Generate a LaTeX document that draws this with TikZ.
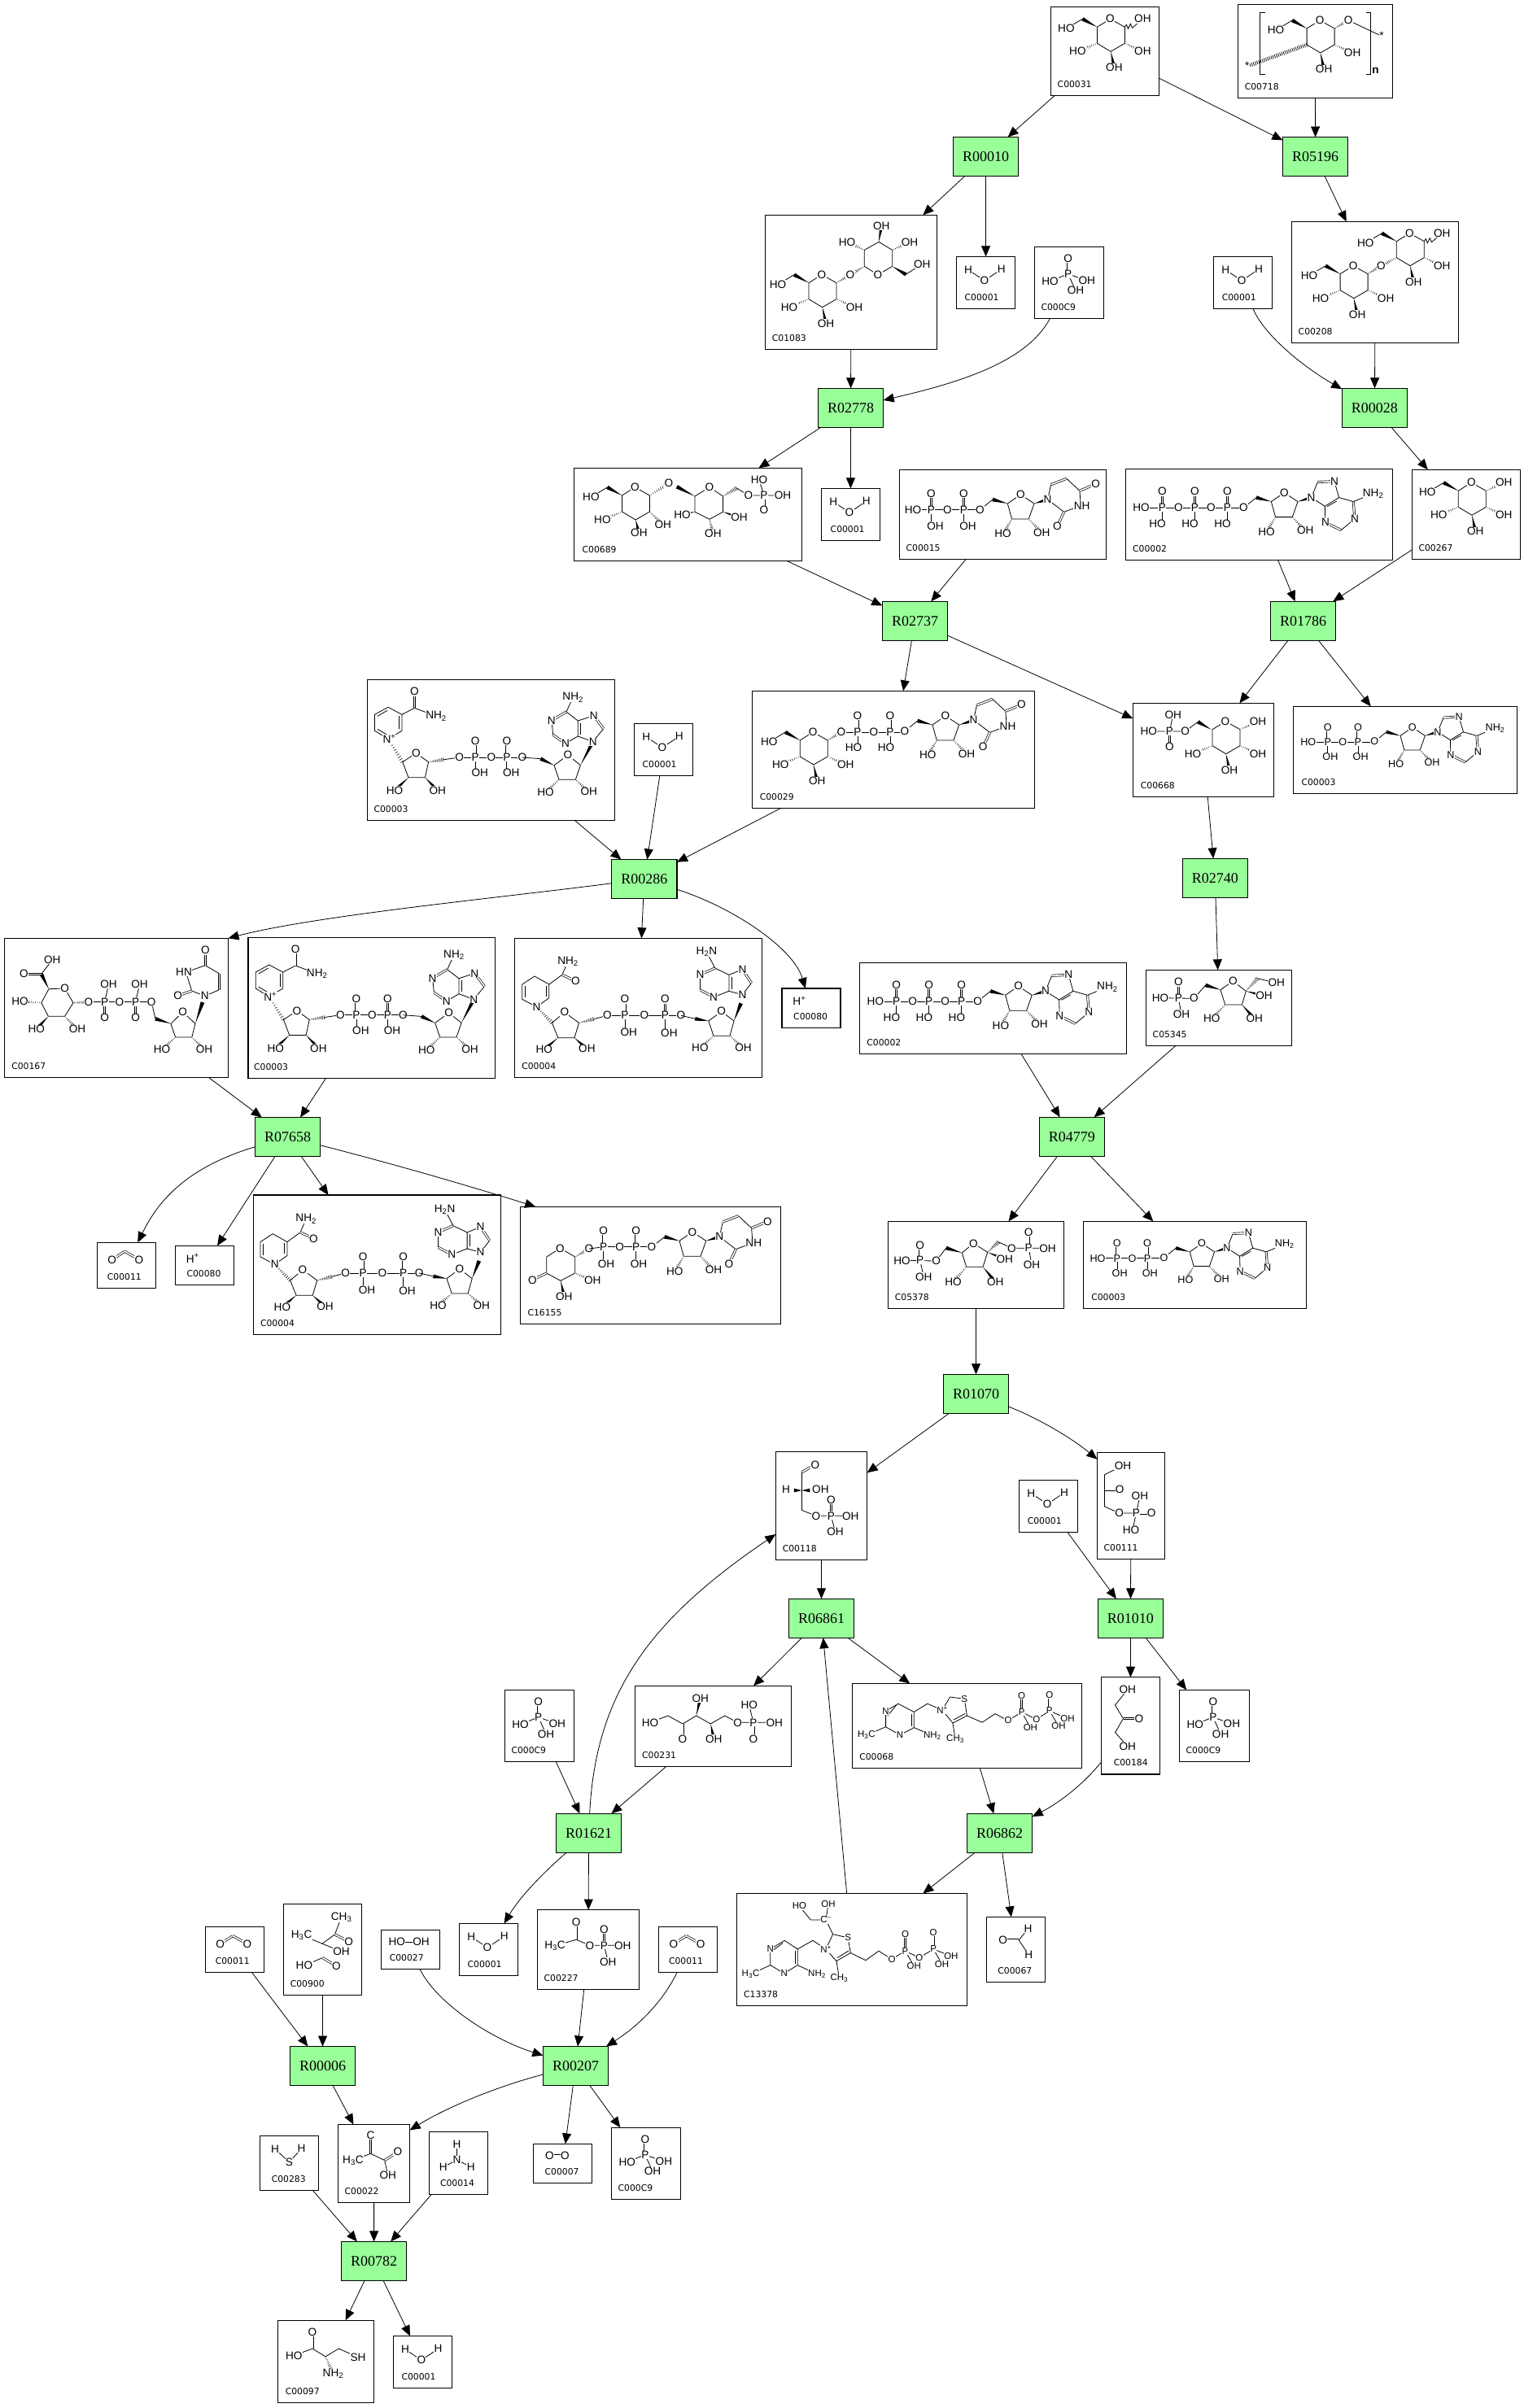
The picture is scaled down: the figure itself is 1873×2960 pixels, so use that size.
\documentclass[tikz,border=0pt]{standalone}
\usepackage{fontspec}
\setmainfont{Liberation Sans}
\newfontfamily\rfont{Liberation Serif}
\newfontfamily\lfont{DejaVu Sans}
\usetikzlibrary{arrows.meta,calc}
\definecolor{rgreen}{RGB}{153,255,153}
\newcommand\atomfont{\fontsize{13.6}{14}\selectfont}
\tikzset{
 cbox/.style={draw=black,line width=1.1pt,inner sep=0pt,outer sep=0pt,rectangle},
 rbox/.style={cbox,fill=rgreen,font=\rfont\fontsize{18}{20}\selectfont,minimum width=80.4pt,minimum height=48pt},
 clabel/.style={font=\lfont\fontsize{10.8}{12}\selectfont,inner sep=0pt,anchor=west},
 atom/.style={font=\atomfont,inner sep=.4pt,fill=white,transform shape},
 bond/.style={line width=.8pt},
 dbond/.style={line width=.7pt,double,double distance=1.6pt},
 hashb/.style={line width=4.6pt,dash pattern=on .7pt off 1.6pt},
 arr/.style={-{Triangle[length=13pt,width=11pt]},line width=.8pt}
}
\newcount\atomno
\newcommand\atm[2]{\global\advance\atomno 1 \node[atom] (atom\the\atomno) at (#1) {#2};}
\newcommand\bd[1]{\draw[bond] #1;}
\newcommand\dbd[1]{\draw[dbond] #1;}
\newcommand\hs[2]{\foreach \hst in {.08,.18,.28,.38,.48,.58,.68,.78,.88,.98}{\pgfmathsetmacro\hw{.3+2.3*\hst}\draw[line width=.55pt] ($(#1)!\hst!(#2)!\hw pt!90:(#2)$) -- ($(#1)!\hst!(#2)!\hw pt!-90:(#2)$);}}
\newcommand\wdg[2]{\fill ($(#2)!2.4pt!90:(#1)$) -- (#1) -- ($(#2)!2.4pt!-90:(#1)$) -- cycle;}
\newcommand\cb[7]{\node[cbox,minimum width={(#4-#2)*1pt},minimum height={(#5-#3)*1pt}] (#1) at ({(#2+#4)/2},{(#3+#5)/2}) {}; \node[clabel] (#1-l) at ({#2+#7},{#5-14}) {#6};}
\newcommand\rn[4]{\node[rbox] (#1) at (#3,#4) {#2};}
% glucose pieces, origin at ring O
\newcommand\glcbonds{\bd{(0,0)--(18,10)--(18,30)--(.7,40)--(-16,30)--(-16,10)--cycle}\hs{18,30}{40,40}\wdg{.7,40}{5,60}}
\newcommand\glcatoms{\atm{0,0}{O}\atm{40,40}{OH}\atm{5,60}{OH}}
\newcommand\glcfour{\hs{-16,30}{-40,40}\atm{-40,40}{HO}}
\newcommand\glcch{\wdg{-16,10}{-34,0}\bd{(-34,0)--(-54,12)}\atm{-54,12}{HO}}
\newcommand\glcwavy{\bd{(18,10)--(20,7)--(22,12)--(25,6)--(27,11)--(40,0)}\atm{40,0}{OH}}
% ribose, origin at ring O
\newcommand\ribo{\bd{(0,0)--(16.7,11)--(10,30)--(-10.7,30)--(-16,11)--cycle}\wdg{-16,11}{-34.3,6}\bd{(-34.3,6)--(-50,18.7)}\hs{-10.7,30}{-21.7,48.3}\hs{10,30}{26,46.7}\wdg{16.7,11}{33.3,6}\atm{0,0}{O}\atm{-21.7,48.3}{HO}\atm{26,46.7}{OH}\atm{-50,18.7}{O}}
% adenine, origin at N9
\newcommand\adenA{\bd{(0,0)--(7.7,-19)}\dbd{(7.7,-19)--(28.3,-20)}\bd{(28.3,-20)--(34,0)--(16.7,10.7)--(0,0)}\bd{(34,0)--(51.7,5)}\bd{(16.7,10.7)--(17.3,30.7)}\dbd{(17.3,30.7)--(36.7,40)}\bd{(36.7,40)--(53.3,26)}\dbd{(53.3,26)--(51.7,5)}\bd{(51.7,5)--(76,-5)}\bd{(31,4.5)--(19.5,11)}\atm{0,0}{N}\atm{28.3,-20}{N}\atm{17.3,30.7}{N}\atm{53.3,26}{N}\atm{76,-5}{NH\textsubscript{2}}}
% uracil, origin at N1
\newcommand\ura{\bd{(0,0)--(4,-18.3)}\dbd{(4,-18.3)--(23.3,-25.7)}\bd{(23.3,-25.7)--(39.3,-10.7)--(40.7,7.7)--(20,15.3)--(0,0)}\dbd{(39.3,-10.7)--(59,-19)}\dbd{(20,15.3)--(11.7,33.3)}\atm{0,0}{N}\atm{42,7.7}{NH}\atm{59,-19}{O}\atm{11.7,33.3}{O}}
% phosphate centre
\newcommand\Pg[5]{\begin{scope}[shift={(#1,#2)}]\dbd{(0,0)--(0,-20)}\bd{(0,0)--(0,18)}\atm{0,-20}{O}\atm{#4,#5}{#3}\atm{0,0}{P}\end{scope}}
% diphosphate from P1 at origin to the last O
\newcommand\PP[3]{\bd{(0,0)--(60,0)}\atm{20,0}{O}\Pg{0}{0}{#1}{#2}{#3}\Pg{40}{0}{#1}{#2}{#3}}
\newcommand\ATP{\bd{(-25.7,0)--(100,0)}\atm{-25.7,0}{HO}\atm{20,0}{O}\atm{60,0}{O}\Pg{0}{0}{HO}{-5.7}{19.7}\Pg{40}{0}{HO}{-5.7}{19.7}\Pg{80}{0}{HO}{-5.7}{19.7}\begin{scope}[shift={(150,-18.7)}]\ribo\begin{scope}[shift={(33.3,6)}]\adenA\end{scope}\end{scope}}
\newcommand\ADP{\bd{(-25.7,0)--(0,0)}\atm{-25.7,0}{HO}\PP{OH}{3.5}{19.7}\begin{scope}[shift={(112,-19.5)}]\ribo\begin{scope}[shift={(33.3,6)}]\adenA\end{scope}\end{scope}}
\newcommand\water[2]{\begin{scope}[shift={(#1,#2)}]\bd{(14.7,16.4)--(34.5,29.7)--(55.3,15.7)}\atm{14.7,16.4}{H}\atm{34.5,29.7}{O}\atm{55.3,15.7}{H}\end{scope}}
\newcommand\cotwo[2]{\begin{scope}[shift={(#1,#2)}]\dbd{(18.4,21)--(34,11)}\dbd{(34,11)--(51.7,21)}\atm{18.4,21}{O}\atm{51.7,21}{O}\end{scope}}
\newcommand\phos[2]{\begin{scope}[shift={(#1,#2)}]\dbd{(41.4,33.5)--(41.4,14.4)}\bd{(19.3,42.4)--(41.4,33.5)--(64.5,41.7)}\bd{(41.4,33.5)--(50.7,54)}\atm{41.4,14.4}{O}\atm{19.3,42.4}{HO}\atm{64.5,41.7}{OH}\atm{50.7,54}{OH}\atm{41.4,33.5}{P}\end{scope}}
\newcommand\NADp{%
 \bd{(0,0)--(17,-10)--(17,-30)--(0,-39)--(-16.5,-30)--(-16.5,-10)--cycle}
 \bd{(13.5,-12)--(13.5,-28)}\bd{(-1,-35)--(-13,-28)}\bd{(-13,-12)--(-2,-5.5)}
 \bd{(17,-30)--(32.5,-38)--(59,-28)}\dbd{(32.5,-38)--(32.5,-58)}
 \atm{32.5,-58}{O}\atm{59,-28}{NH\textsubscript{2}}
 \hs{0,0}{17.8,28.4}\atm{1.5,0}{N\textsuperscript{+}}
 \bd{(34.3,17.4)--(49.6,28.4)--(45.4,47.4)--(25,47.4)--(17.8,28.4)--cycle}
 \wdg{25,47.4}{8,63.4}\wdg{45.4,47.4}{60.7,63.4}\atm{34.3,17.4}{O}\atm{8,63.4}{HO}\atm{60.7,63.4}{OH}
 \hs{49.6,28.4}{68,25.5}\bd{(68,25.5)--(87.6,22.7)}
 \begin{scope}[shift={(107.2,22.7)}]\bd{(-19.6,0)--(57.6,0)}\atm{-19.6,0}{O}\atm{19.6,0}{O}\atm{57.6,0}{O}\Pg{0}{0}{OH}{5.5}{19}\Pg{38.6}{0}{OH}{5.5}{19}\end{scope}
 \bd{(164.8,22.7)--(187.4,24.4)}\wdg{204,32.4}{187.4,24.4}
 \bd{(221,20)--(236.4,32.4)--(230.3,50)--(210,50)--(204,32.4)--cycle}
 \hs{210,50}{193.5,65.7}\hs{230.3,50}{246.8,65}\wdg{236.4,32.4}{251.7,3.4}
 \atm{221,20}{O}\atm{193.5,65.7}{HO}\atm{246.8,65}{OH}
 \begin{scope}[shift={(251.7,3.4)}]
 \bd{(0,0)--(13,-16)}\dbd{(13,-16)--(1,-32)}\bd{(1,-32)--(-18.4,-25.7)--(-18.4,-6.7)--(0,0)}\bd{(-18.4,-25.7)--(-32.7,-36.7)}\dbd{(-32.7,-36.7)--(-50.8,-26)}\bd{(-50.8,-26)--(-49,-8.4)}\dbd{(-49,-8.4)--(-33.7,2.3)}\bd{(-33.7,2.3)--(-18.4,-6.7)}\bd{(-32.7,-36.7)--(-24.5,-54.4)}\bd{(-15,-23)--(-15,-9)}
 \atm{0,0}{N}\atm{1,-32}{N}\atm{-50.8,-26}{N}\atm{-33.7,2.3}{N}\atm{-24.5,-54.4}{NH\textsubscript{2}}
 \end{scope}}
\newcommand\NADH{%
 \bd{(0,0)--(15.3,-11)--(15.3,-27.7)--(-2.5,-37.7)--(-17.7,-27.7)--(-17.7,-9.4)--cycle}
 \bd{(12,-13)--(12,-26)}\bd{(-14.5,-25.5)--(-14.5,-11.5)}
 \bd{(15.3,-27.7)--(31.3,-39.4)--(38.5,-56)}\dbd{(31.3,-39.4)--(47.8,-32)}
 \atm{38.5,-56}{NH\textsubscript{2}}\atm{47.8,-32}{O}
 \hs{0,0}{19,19.6}\atm{0,0}{N}
 \bd{(34.3,6.6)--(52.1,19.6)--(46.5,38)--(26.3,38)--(19,19.6)--cycle}
 \wdg{26.3,38}{9.2,52.3}\wdg{46.5,38}{61.9,51.6}\atm{34.3,6.6}{O}\atm{9.2,52.3}{HO}\atm{61.9,51.6}{OH}
 \hs{52.1,19.6}{70,15}\bd{(70,15)--(87,10.6)}
 \begin{scope}[shift={(108.5,10.6)}]\bd{(-21.5,0)--(69,0)}\atm{-21.5,0}{O}\atm{23.8,0}{O}\atm{69,0}{O}\Pg{0}{0}{OH}{4.8}{20.7}\Pg{49.5}{0}{OH}{4.9}{21.7}\end{scope}
 \bd{(177.5,10.6)--(194.8,14.6)}\wdg{211.3,17.3}{194.8,14.6}
 \bd{(227.2,5.6)--(242.5,17.3)--(237.5,35.6)--(217.5,35.6)--(211.3,17.3)--cycle}
 \hs{217.5,35.6}{200.9,50.6}\hs{237.5,35.6}{254.1,50.6}\wdg{242.5,17.3}{251.1,-4.4}
 \atm{227.2,5.6}{O}\atm{200.9,50.6}{HO}\atm{254.1,50.6}{OH}
 \begin{scope}[shift={(252.9,-15)}]
 \bd{(0,0)--(11.1,-14.4)}\dbd{(11.1,-14.4)--(0,-31)}\bd{(0,-31)--(-16.5,-24.4)--(-16.5,-4.4)--(0,0)}\bd{(-16.5,-24.4)--(-33.7,-32.7)}\dbd{(-33.7,-32.7)--(-52,-24.4)}\bd{(-52,-24.4)--(-52,-6)}\dbd{(-52,-6)--(-35.4,3)}\bd{(-35.4,3)--(-16.5,-4.4)}\bd{(-33.7,-32.7)--(-44,-52.7)}\bd{(-13.5,-22)--(-13.5,-7)}
 \atm{0,0}{N}\atm{0,-31}{N}\atm{-52,-24.4}{N}\atm{-35.4,3}{N}\atm{-44,-52.7}{H\textsubscript{2}N}
 \end{scope}}
\begin{document}
\begin{tikzpicture}[x=1pt,y=-1pt]
\useasboundingbox (0,0) rectangle (1873,2960);
% ---------- reaction nodes
\rn{r00010}{R00010}{1211.5}{192.5}
\rn{r05196}{R05196}{1616.6}{192.5}
\rn{r02778}{R02778}{1045.5}{501.3}
\rn{r00028}{R00028}{1689.4}{501.3}
\rn{r02737}{R02737}{1124.5}{763.3}
\rn{r01786}{R01786}{1601.5}{763.3}
\rn{r00286}{R00286}{791.8}{1080.5}
\rn{r02740}{R02740}{1493.3}{1079.3}
\rn{r07658}{R07658}{353.5}{1397.5}
\rn{r04779}{R04779}{1317.4}{1397.3}
\rn{r01070}{R01070}{1199.5}{1713.3}
\rn{r06861}{R06861}{1009.5}{1989.3}
\rn{r01010}{R01010}{1389.4}{1989.3}
\rn{r01621}{R01621}{723.5}{2253.3}
\rn{r06862}{R06862}{1228.5}{2253.3}
\rn{r00006}{R00006}{396.5}{2539.5}
\rn{r00207}{R00207}{707.5}{2539.5}
\rn{r00782}{R00782}{459.6}{2779.4}
% ---------- compound boxes
\cb{c00031}{1291.5}{8.3}{1424.3}{117.3}{C00031}{8}
\cb{c00718}{1521.6}{5.3}{1711.5}{120.3}{C00718}{8}
\cb{c01083}{940.3}{264.3}{1151.7}{429.3}{C01083}{8.4}
\cb{wa}{1175.4}{315.3}{1247.7}{379.3}{C00001}{10}
\cb{pa}{1271.3}{303.3}{1356.5}{391.3}{C000C9}{8}
\cb{wb}{1491.6}{315.3}{1563.6}{379.3}{C00001}{10}
\cb{c00208}{1587.5}{272.3}{1792.7}{421.3}{C00208}{8}
\cb{c00689}{705.4}{575.3}{985.4}{689.3}{C00689}{10}
\cb{wc}{1009.5}{600.3}{1081.3}{664.3}{C00001}{11}
\cb{c00015}{1105.4}{577.3}{1359.5}{687.3}{C00015}{8}
\cb{atpa}{1383.3}{576.7}{1711.7}{688.3}{C00002}{8.6}
\cb{c00267}{1735.3}{577.3}{1868.7}{687.3}{C00267}{8}
\cb{c00668}{1392.3}{864.3}{1565.7}{979.3}{C00668}{9.4}
\cb{adpa}{1589.3}{868.3}{1864.7}{975.3}{C00003}{10}
\cb{c00029}{924.6}{849.3}{1271.5}{993.3}{C00029}{9}
\cb{nada}{451.9}{835.3}{755.7}{1008.3}{C00003}{7.4}
\cb{wd}{779.5}{889.3}{851.8}{953.3}{C00001}{10}
\cb{c00167}{5.5}{1153.3}{280.5}{1324.3}{C00167}{8.6}
\cb{nadb}{305}{1152.3}{608.7}{1325.3}{C00003}{7}
\cb{nadha}{632.6}{1153.3}{936.3}{1324.3}{C00004}{8.5}
\cb{ha}{961}{1215}{1033}{1263.3}{C00080}{14}
\cb{atpb}{1056.4}{1183.3}{1384.8}{1295.3}{C00002}{8.8}
\cb{c05345}{1408.5}{1192.3}{1587.6}{1285.3}{C05345}{8}
\cb{cdioa}{119.3}{1527.3}{191.7}{1583.3}{C00011}{12.4}
\cb{hb}{215.3}{1531.3}{287.7}{1579.3}{C00080}{14}
\cb{nadhb}{311.3}{1469}{615.7}{1640.3}{C00004}{8.5}
\cb{c16155}{639.3}{1483.3}{959.7}{1627.3}{C16155}{9}
\cb{c05378}{1091.2}{1501.3}{1307.8}{1608.3}{C05378}{8.5}
\cb{adpb}{1331.6}{1501.3}{1605.6}{1608.3}{C00003}{9.5}
\cb{c00118}{953.3}{1784.3}{1065.7}{1917.5}{C00118}{8.3}
\cb{c00111}{1348.4}{1785.3}{1431.6}{1916.6}{C00111}{8}
\cb{we}{1252.6}{1819.2}{1324.5}{1883.5}{C00001}{10}
\cb{pb}{620.3}{2077.3}{705.7}{2165.3}{C000C9}{8}
\cb{c00231}{780.3}{2072.3}{972.7}{2171.3}{C00231}{8.7}
\cb{c00068}{1047.4}{2069.5}{1329.7}{2173.2}{C00068}{8.7}
\cb{c00184}{1353.6}{2061.7}{1425.6}{2181}{C00184}{15}
\cb{pc}{1449.4}{2077.3}{1535.7}{2165.4}{C000C9}{8}
\cb{c13378}{905.6}{2327.5}{1188.4}{2465.2}{C13378}{8.3}
\cb{c00067}{1212.2}{2356.4}{1284.6}{2436.3}{C00067}{14}
\cb{cdiob}{252.2}{2368.6}{324.5}{2424.6}{C00011}{12.4}
\cb{c00900}{348.6}{2340.4}{444.5}{2452.4}{C00900}{8}
\cb{c00027}{468.6}{2372.4}{540.4}{2420.4}{C00027}{10}
\cb{wf}{564.5}{2364.4}{636.7}{2428.4}{C00001}{10}
\cb{c00227}{660.4}{2347.6}{785.7}{2445.2}{C00227}{8}
\cb{cdioc}{809.4}{2368.6}{881.6}{2424.6}{C00011}{12.4}
\cb{c00022}{415.5}{2611.5}{503.7}{2707.4}{C00022}{8}
\cb{c00283}{319.6}{2625.3}{391.4}{2692.7}{C00283}{14}
\cb{c00014}{527.3}{2620.3}{599.6}{2697.3}{C00014}{13.5}
\cb{c00007}{655.5}{2635.4}{727.8}{2683.4}{C00007}{14}
\cb{pd}{751.4}{2615.2}{836.7}{2703.2}{C000C9}{8}
\cb{c00097}{341.2}{2852.2}{459.6}{2953.2}{C00097}{9.4}
\cb{wg}{483.3}{2871.5}{555.5}{2935.5}{C00001}{10}
% ---------- structures
% C00031
\begin{scope}[shift={(1364.4,23.3)}]\glcbonds\glcfour\glcch\glcwavy\glcatoms\end{scope}
% C00718
\begin{scope}[shift={(1622.1,25)}]\glcbonds\glcch\draw[hashb] (-16,30) -- (-88,56);\hs{18,10}{35,0}\bd{(35,0)--(75,19)}\atm{35,0}{O}\atm{76,19}{*}\atm{-89.4,55.7}{*}\glcatoms
\bd{(-67.3,-10)--(-73.3,-10)--(-73.3,66.7)--(-67.3,66.7)}\bd{(56.7,-10)--(62.7,-10)--(62.7,66.7)--(56.7,66.7)}\atm{68.3,61.7}{\textbf{n}}\end{scope}
% C01083
\begin{scope}[shift={(1010,337.7)}]\glcbonds\glcfour\glcch\hs{18,10}{35,0}\atm{35,0}{O}\glcatoms\end{scope}
\begin{scope}[shift={(1079,337.7)}]
\bd{(0,0)--(17.7,-10.3)--(17.7,-30.3)--(1,-40.3)--(-16.7,-30.3)--(-16.7,-10.3)--cycle}
\hs{-16.7,-10.3}{-34,0}\wdg{17.7,-10.3}{34.3,-.3}\bd{(34.3,-.3)--(54.3,-13.3)}\hs{17.7,-30.3}{39,-40.3}\hs{-16.7,-30.3}{-38,-40.3}\wdg{1,-40.3}{4.3,-60.3}
\atm{0,0}{O}\atm{54.3,-13.3}{OH}\atm{39,-40.3}{OH}\atm{-38,-40.3}{HO}\atm{4.3,-60.3}{OH}\atm{-34,0}{O}\end{scope}
% water
\water{1175.4}{315.3}\water{1491.6}{315.3}\water{1009.5}{600.3}\water{779.5}{889.3}\water{1252.6}{1819.2}\water{564.5}{2364.4}\water{483.3}{2871.5}
% phosphate
\phos{1271.3}{303.3}\phos{620.3}{2077.3}\phos{1449.4}{2077.3}\phos{751.4}{2615.2}
% C00208
\begin{scope}[shift={(1732.3,286.7)}]\glcbonds\glcch\hs{-16,30}{-35,40}\glcwavy\glcatoms\end{scope}
\begin{scope}[shift={(1663.1,326.7)}]\glcbonds\glcfour\glcch\hs{18,10}{34.2,0}\atm{34.2,0}{O}\glcatoms\end{scope}
% C00689
\begin{scope}[shift={(780.4,599)}]\bd{(0,0)--(18,10)--(18,30)--(.7,40)--(-16,30)--(-16,10)--cycle}\hs{18,30}{34.4,46}\wdg{.7,40}{5,56}\glcfour\glcch\hs{18,10}{41.6,-4.7}\atm{41.6,-4.7}{O}\atm{0,0}{O}\atm{34.4,46}{OH}\atm{5,56}{OH}\end{scope}
\bd{(872,599)--(888.5,610)--(888.5,629.3)--(872,638.3)--(854,629.3)--(854,610)--cycle}
\wdg{854,610}{831.8,598.3}\wdg{854,629.3}{836,632.5}\wdg{888.5,629.3}{908.6,635.7}\hs{872,638.3}{876.4,656}\hs{888.5,610}{905.4,600}
\bd{(905.4,600)--(920,609)--(962,609)}\bd{(939,609)--(933,590)}\dbd{(939,609)--(939,627.3)}
\atm{872,599}{O}\atm{838.5,633.3}{HO}\atm{908.6,635.7}{OH}\atm{876.4,656}{OH}\atm{920,609}{O}\atm{939,609}{P}\atm{933,590}{HO}\atm{939,627.3}{O}\atm{962,609}{OH}
% C00015
\begin{scope}[shift={(1144.3,626.7)}]\bd{(-22.3,0)--(0,0)}\atm{-22.3,0}{HO}\PP{OH}{5.3}{20}\begin{scope}[shift={(110,-18.7)}]\ribo\begin{scope}[shift={(33.3,6)}]\ura\end{scope}\end{scope}\end{scope}
% ATP
\begin{scope}[shift={(1428.3,624.3)}]\ATP\end{scope}
\begin{scope}[shift={(1101.6,1231)}]\ATP\end{scope}
% C00267
\begin{scope}[shift={(1808.3,593.3)}]\glcbonds\glcfour\glcch\hs{18,10}{40,0}\atm{40,0}{OH}\glcatoms\end{scope}
% C00668
\begin{scope}[shift={(1506,886.7)}]\glcbonds\glcfour\hs{18,10}{40,0}\atm{40,0}{OH}\wdg{-17.7,10}{-33.7,.6}\glcatoms\end{scope}
\bd{(1472.3,887.3)--(1456.7,899)--(1411.7,899)}\bd{(1437.3,899)--(1441.7,879)}\dbd{(1437.3,899)--(1437.3,918.3)}
\atm{1456.7,899}{O}\atm{1437.3,899}{P}\atm{1411.7,899}{HO}\atm{1441.7,879}{OH}\atm{1437.3,918.3}{O}
% ADP
\begin{scope}[shift={(1631.7,912.3)},scale=.93]\ADP\end{scope}
\begin{scope}[shift={(1372.9,1546.7)},scale=.93]\ADP\end{scope}
% C00029
\begin{scope}[shift={(999.2,900)}]\glcbonds\glcfour\glcch\hs{18,10}{34.8,0}\atm{34.8,0}{O}\glcatoms\end{scope}
\begin{scope}[shift={(1054,900)}]\bd{(-20,0)--(0,0)}\atm{-20,0}{O}\PP{HO}{-5}{19.3}\begin{scope}[shift={(108,-20)}]\ribo\begin{scope}[shift={(34.5,5)}]\ura\end{scope}\end{scope}\end{scope}
% NAD
\begin{scope}[shift={(477,908.3)}]\NADp\end{scope}
\begin{scope}[shift={(330.7,1225)}]\NADp\end{scope}
\begin{scope}[shift={(659.5,1237.7)}]\NADH\end{scope}
\begin{scope}[shift={(337.7,1554.3)}]\NADH\end{scope}
% C00167
\bd{(60,1215.7)--(79.6,1215)--(90,1232.7)--(79.6,1249.3)--(59.4,1249.3)--(50.8,1232.7)--cycle}
\wdg{60,1215.7}{50.8,1197.3}\bd{(50.8,1197.3)--(64.3,1180)}\dbd{(50.8,1197.3)--(29.4,1197.3)}
\hs{50.8,1232.7}{24.5,1231}\wdg{59.4,1249.3}{44.7,1265}\hs{79.6,1249.3}{95,1265}\hs{90,1232.7}{109,1231.7}
\bd{(109,1231.7)--(186.2,1231.7)}\bd{(128.6,1231.7)--(133.5,1210)}\dbd{(128.6,1231.7)--(128.6,1251)}\bd{(166.6,1231.7)--(171.5,1210)}\dbd{(166.6,1231.7)--(166.6,1251)}
\bd{(186.2,1231.7)--(191,1252.3)}\wdg{210,1258.3}{191,1252.3}
\bd{(224.7,1244)--(240,1258.3)--(235.8,1275)--(215.6,1275)--(210,1258.3)--cycle}\hs{215.6,1275}{199,1290}\hs{235.8,1275}{251,1290}\wdg{240,1258.3}{249,1232}
\bd{(251.7,1224.3)--(269.4,1216.7)}\dbd{(269.4,1216.7)--(269.4,1196.7)}\bd{(269.4,1196.7)--(252.3,1186.7)--(228.4,1195)--(235.8,1218)--(251.7,1224.3)}\dbd{(252.3,1186.7)--(252.3,1168.3)}\dbd{(235.8,1218)--(218.6,1224)}
\atm{79.6,1215}{O}\atm{29.4,1197.3}{O}\atm{64.3,1180}{OH}\atm{24.5,1231}{HO}\atm{44.7,1265}{HO}\atm{95,1265}{OH}\atm{109,1231.7}{O}\atm{128.6,1231.7}{P}\atm{133.5,1210}{OH}\atm{128.6,1251}{O}\atm{147,1231.7}{O}\atm{166.6,1231.7}{P}\atm{171.5,1210}{OH}\atm{166.6,1251}{O}\atm{186.2,1231.7}{O}\atm{224.7,1244}{O}\atm{199,1290}{HO}\atm{251,1290}{OH}\atm{251.7,1224.3}{N}\atm{226,1195}{HN}\atm{252.3,1168.3}{O}\atm{218.6,1224}{O}
% C00080
\atm{982.4,1230.4}{H\textsuperscript{+}}\atm{236.7,1546.7}{H\textsuperscript{+}}
% C05345
\bd{(1515.3,1206)--(1531.3,1218.3)--(1526.4,1235)--(1505.7,1235)--(1500,1216.7)--cycle}
\wdg{1500,1216.7}{1481.6,1211}\bd{(1481.6,1211)--(1467.4,1227.3)--(1426,1226.7)}\bd{(1448.3,1226.7)--(1452,1246.7)}\dbd{(1448.3,1226.7)--(1448.3,1207.3)}
\hs{1505.7,1235}{1489.2,1252.3}\wdg{1526.4,1235}{1541.7,1252.3}\wdg{1531.3,1218.3}{1553.5,1224}\hs{1531.3,1218.3}{1545.5,1202.7}\bd{(1545.5,1202.7)--(1568.8,1208.3)}
\atm{1515.3,1206}{O}\atm{1467.4,1227.3}{O}\atm{1448.3,1226.7}{P}\atm{1426,1226.7}{HO}\atm{1448.3,1207.3}{O}\atm{1452,1246.7}{OH}\atm{1489.2,1252.3}{HO}\atm{1541.7,1252.3}{OH}\atm{1553.5,1224}{OH}\atm{1568.8,1208.3}{OH}
% C05378
\bd{(1196.5,1528.3)--(1213.7,1539.3)--(1208,1557.3)--(1187.7,1557.3)--(1182.3,1540)--cycle}
\wdg{1182.3,1540}{1162.8,1534}\bd{(1162.8,1534)--(1150.6,1550)--(1108.5,1549.3)}\bd{(1130.7,1549.3)--(1135.2,1569.3)}\dbd{(1130.7,1549.3)--(1130.7,1530.7)}
\hs{1187.7,1557.3}{1171.6,1575.7}\wdg{1208,1557.3}{1223.3,1575.7}\wdg{1213.7,1539.3}{1234.7,1547.7}\hs{1213.7,1539.3}{1227,1526.7}\bd{(1227,1526.7)--(1243.5,1534.3)--(1287.6,1534.3)}\bd{(1264.2,1534.3)--(1268,1554.3)}\dbd{(1264.2,1534.3)--(1264.2,1514.3)}
\atm{1196.5,1528.3}{O}\atm{1150.6,1550}{O}\atm{1130.7,1549.3}{P}\atm{1108.5,1549.3}{HO}\atm{1130.7,1530.7}{O}\atm{1135.2,1569.3}{OH}\atm{1171.6,1575.7}{HO}\atm{1223.3,1575.7}{OH}\atm{1234.7,1547.7}{OH}\atm{1243.5,1534.3}{O}\atm{1264.2,1534.3}{P}\atm{1264.2,1514.3}{O}\atm{1287.6,1534.3}{OH}\atm{1268,1554.3}{OH}
% CO2
\cotwo{119.3}{1527.3}\cotwo{252.2}{2368.6}\cotwo{809.4}{2368.6}
% C16155
\bd{(688.3,1534.3)--(706.7,1545)--(706.7,1565)--(689,1574.3)--(671.7,1565)--(671.7,1545)--cycle}
\dbd{(671.7,1565)--(654.3,1573.3)}\hs{706.7,1565}{728.3,1574}\wdg{689,1574.3}{693.3,1593.3}\hs{706.7,1545}{724,1535}
\atm{688.3,1534.3}{O}\atm{654.3,1573.3}{O}\atm{728.3,1574}{OH}\atm{693.3,1593.3}{OH}\atm{724,1535}{O}
\begin{scope}[shift={(741.7,1532.7)}]\bd{(-17.7,2.3)--(0,0)}\PP{OH}{3.3}{20.7}\begin{scope}[shift={(109.3,-18.4)}]\ribo\begin{scope}[shift={(33.3,6)}]\ura\end{scope}\end{scope}\end{scope}
% C00118
\dbd{(985.4,1809.6)--(1001.9,1800.4)}\bd{(985.4,1809.6)--(985.4,1856.4)--(1002.8,1863.3)--(1045.3,1863.3)}\wdg{985.4,1832}{975.9,1832}\wdg{985.4,1832}{995.4,1832}\dbd{(1021.4,1863.3)--(1021.4,1844)}\bd{(1021.4,1863.3)--(1026.6,1883)}
\atm{1001.9,1800.4}{O}\atm{965.9,1831.2}{H}\atm{1008.4,1831.2}{OH}\atm{1002.8,1863.3}{O}\atm{1021.4,1863.3}{P}\atm{1021.4,1844}{O}\atm{1045.3,1863.3}{OH}\atm{1026.6,1883}{OH}
% C00111
\bd{(1380,1801.3)--(1357.5,1812.8)--(1357.5,1851.8)--(1375.7,1860)--(1396.5,1860)}\dbd{(1357.5,1831.2)--(1376.2,1831.2)}\bd{(1396.5,1860)--(1400.9,1839)}\dbd{(1396.5,1860)--(1415.2,1860)}\bd{(1396.5,1860)--(1392,1880)}
\atm{1380,1801.3}{OH}\atm{1376.2,1831.2}{O}\atm{1375.7,1860}{O}\atm{1396.5,1860}{P}\atm{1400.9,1839}{OH}\atm{1415.2,1860}{O}\atm{1390,1880.8}{HO}
% C00231
\bd{(799,2117.3)--(821,2109)--(839,2119)--(855.7,2109)--(873.3,2119)--(890.7,2109)--(906.7,2117.3)--(951.7,2117.3)}\dbd{(839,2119)--(839,2137.3)}\wdg{855.7,2109}{860.7,2087.3}\wdg{873.3,2119}{877.3,2137.3}\bd{(926,2117.3)--(920.7,2096)}\dbd{(926,2117.3)--(926,2137.3)}
\atm{799,2117.3}{HO}\atm{839,2137.3}{O}\atm{860.7,2087.3}{OH}\atm{877.3,2137.3}{OH}\atm{906.7,2117.3}{O}\atm{926,2117.3}{P}\atm{920.7,2096}{HO}\atm{926,2137.3}{O}\atm{951.7,2117.3}{OH}
% C00184
\bd{(1385.7,2076.8)--(1370.5,2096)--(1380.5,2112.6)--(1370.5,2129.6)--(1385.7,2146.6)}\dbd{(1380.5,2112.6)--(1400,2112.6)}
\atm{1385.7,2076.8}{OH}\atm{1400,2112.6}{O}\atm{1385.7,2146.6}{OH}
% C00068
\bd{(1088.6,2103.4)--(1103.8,2094.2)--(1123.3,2104.4)--(1123.3,2123.6)--(1106,2132.8)--(1088.6,2122.7)--cycle}
\bd{(1120,2106.5)--(1120,2121.5)}\bd{(1091,2109)--(1102,2095.5)}
\bd{(1088.6,2122.7)--(1064.8,2132.8)}\bd{(1123.3,2123.6)--(1145.9,2133.3)}\bd{(1123.3,2104.4)--(1139.8,2094.2)--(1158,2102)}
\bd{(1158,2102)--(1167.6,2086)--(1185.3,2088.3)--(1188.4,2109)--(1171,2118)--(1158,2102)}\bd{(1186,2106.5)--(1172,2114)}\bd{(1171,2118)--(1174,2137.4)}
\bd{(1188.4,2109)--(1207,2117.2)--(1223,2106.6)--(1239.1,2115)--(1255.6,2104.4)--(1273.8,2113.5)--(1289.8,2103)--(1312,2112.6)}\bd{(1255.6,2104.4)--(1266.4,2123.6)}\bd{(1289.8,2103)--(1301,2121.8)}\dbd{(1255.6,2104.4)--(1255.6,2084.6)}\dbd{(1289.8,2103)--(1289.8,2083.7)}
\begingroup\renewcommand\atomfont{\fontsize{11.5}{13}\selectfont}
\atm{1088.6,2103.4}{N}\atm{1106,2132.8}{N}\atm{1064.8,2132.8}{H\textsubscript{3}C}\atm{1145.9,2133.3}{NH\textsubscript{2}}\atm{1158,2102}{N\textsuperscript{+}}\atm{1185.3,2088.3}{S}\atm{1174,2137.4}{CH\textsubscript{3}}\atm{1239.1,2115}{O}\atm{1255.6,2104.4}{P}\atm{1255.6,2084.6}{O}\atm{1266.4,2123.6}{OH}\atm{1273.8,2113.5}{O}\atm{1289.8,2103}{P}\atm{1289.8,2083.7}{O}\atm{1312,2112.6}{OH}\atm{1301,2121.8}{OH}
\endgroup
% C13378
\bd{(946.8,2395.9)--(964.2,2385.3)--(980.2,2395.9)--(980.2,2415.6)--(963.7,2425.8)--(946.8,2415.6)--cycle}
\bd{(977,2398)--(977,2413.5)}\bd{(949,2398)--(962,2388.5)}
\bd{(946.8,2415.6)--(922.5,2426.7)}\bd{(980.2,2415.6)--(1004,2426.7)}\bd{(980.2,2395.9)--(998.9,2385.3)--(1015,2395.9)}
\bd{(1015,2395.9)--(1023.6,2377.5)--(1042.2,2382)--(1045.3,2400.5)--(1028,2410.6)--(1015,2395.9)}\bd{(1043,2398)--(1029,2406.5)}\bd{(1028,2410.6)--(1031.4,2431.7)}
\bd{(1023.6,2377.5)--(1015,2360)--(1018,2340.8)}\bd{(1015,2360)--(996.3,2360)--(982.4,2343)}
\bd{(1045.3,2400.5)--(1063.9,2409.7)--(1080,2398.2)--(1096,2408.3)--(1112.5,2398.2)--(1129.8,2406.5)--(1147.2,2395.9)--(1168.9,2404.6)}\bd{(1112.5,2398.2)--(1123.3,2416.6)}\bd{(1147.2,2395.9)--(1157.6,2414.3)}\dbd{(1112.5,2398.2)--(1112.5,2377.6)}\dbd{(1147.2,2395.9)--(1147.2,2375.2)}
\begingroup\renewcommand\atomfont{\fontsize{11.5}{13}\selectfont}
\atm{946.8,2395.9}{N}\atm{963.7,2425.8}{N}\atm{922.5,2426.7}{H\textsubscript{3}C}\atm{1004,2426.7}{NH\textsubscript{2}}\atm{1015,2395.9}{N\textsuperscript{+}}\atm{1042.2,2382}{S}\atm{1031.4,2431.7}{CH\textsubscript{3}}\atm{1015,2360}{C\textsuperscript{--}}\atm{1018,2340.8}{OH}\atm{982.4,2343}{HO}\atm{1096,2408.3}{O}\atm{1112.5,2398.2}{P}\atm{1112.5,2377.6}{O}\atm{1123.3,2416.6}{OH}\atm{1129.8,2406.5}{O}\atm{1147.2,2395.9}{P}\atm{1147.2,2375.2}{O}\atm{1168.9,2404.6}{OH}\atm{1157.6,2414.3}{OH}
\endgroup
% C00067
\dbd{(1232.6,2384.9)--(1252.1,2384.9)}\bd{(1263.4,2371)--(1252.1,2384.9)--(1264.3,2402.8)}
\atm{1232.6,2384.9}{O}\atm{1263.4,2371}{H}\atm{1264.3,2402.8}{H}
% C00900
\bd{(419.6,2356.8)--(411.4,2377.9)--(396,2389.2)--(370.6,2378.7)}\dbd{(411.4,2377.9)--(428.6,2386.3)}\bd{(396,2389.2)--(419.6,2398.9)}\bd{(373.9,2416.2)--(396.3,2406.5)}\dbd{(396.3,2406.5)--(413.5,2416.6)}
\atm{419.6,2356.8}{CH\textsubscript{3}}\atm{370.6,2378.7}{H\textsubscript{3}C}\atm{428.6,2386.3}{O}\atm{419.6,2398.9}{OH}\atm{373.9,2416.2}{HO}\atm{413.5,2416.6}{O}
% C00027
\bd{(487.8,2387)--(517.6,2387)}\atm{487.8,2387}{HO}\atm{517.6,2387}{OH}
% C00227
\dbd{(708.2,2384.2)--(708.2,2362.3)}\bd{(682,2391.8)--(708.2,2384.2)--(724.9,2391.3)--(765.3,2391.3)}\dbd{(742.4,2391.3)--(742.4,2371.5)}\bd{(742.4,2391.3)--(747.3,2411.5)}
\atm{708.2,2362.3}{O}\atm{682,2391.8}{H\textsubscript{3}C}\atm{724.9,2391.3}{O}\atm{742.4,2391.3}{P}\atm{742.4,2371.5}{O}\atm{765.3,2391.3}{OH}\atm{747.3,2411.5}{OH}
% C00022
\dbd{(455.5,2624.9)--(455.5,2647.2)}\bd{(433.9,2655.6)--(455.5,2647.2)--(472.7,2655.6)--(476.7,2673.7)}\dbd{(472.7,2655.6)--(489,2645)}
\atm{455.5,2624.9}{C}\atm{433.9,2655.6}{H\textsubscript{3}C}\atm{489,2645}{O}\atm{476.7,2673.7}{OH}
% C00283
\bd{(338,2641.8)--(355.5,2657.7)--(370.6,2641)}\atm{338,2641.8}{H}\atm{355.5,2657.7}{S}\atm{370.6,2641}{H}
% C00014
\bd{(561.6,2635.4)--(561.6,2654.8)}\bd{(544.9,2664)--(561.6,2654.8)--(578.8,2664)}\atm{561.6,2635.4}{H}\atm{561.6,2654.8}{N}\atm{544.9,2664}{H}\atm{578.8,2664}{H}
% C00007
\dbd{(675.5,2649.8)--(694.3,2649.8)}\atm{675.5,2649.8}{O}\atm{694.3,2649.8}{O}
% C00097
\dbd{(384,2887)--(384,2867)}\bd{(361.2,2895.5)--(384,2887)--(400,2896.8)--(416.3,2887)--(440,2897.6)}\hs{400,2896.8}{409.4,2917.9}
\atm{384,2867}{O}\atm{361.2,2895.5}{HO}\atm{409.4,2917.9}{NH\textsubscript{2}}\atm{440,2897.6}{SH}
% ---------- connectors
\draw[arr] (c00031) -- (r00010);
\draw[arr] (c00031) -- (r05196);
\draw[arr] (c00718) -- (r05196);
\draw[arr] (r00010) -- (c01083);
\draw[arr] (r00010) -- (wa);
\draw[arr] (pa) .. controls (1262,445) and (1180,470) .. (r02778);
\draw[arr] (c01083) -- (r02778);
\draw[arr] (r02778) -- (c00689);
\draw[arr] (r02778) -- (wc);
\draw[arr] (wb) .. controls (1552,410) and (1600,450) .. (r00028);
\draw[arr] (c00208) -- (r00028);
\draw[arr] (r05196) -- (c00208);
\draw[arr] (r00028) -- (c00267);
\draw[arr] (c00689) -- (r02737);
\draw[arr] (c00015) -- (r02737);
\draw[arr] (atpa) -- (r01786);
\draw[arr] (c00267) -- (r01786);
\draw[arr] (r01786) -- (c00668);
\draw[arr] (r01786) -- (adpa);
\draw[arr] (r02737) -- (c00029);
\draw[arr] (r02737) -- (c00668);
\draw[arr] (nada) -- (r00286);
\draw[arr] (wd) -- (r00286);
\draw[arr] (c00029) -- (r00286);
\draw[arr] (c00668) -- (r02740);
\draw[arr] (r02740) -- (c05345);
\draw[arr] (r00286) .. controls (620,1103) and (390,1125) .. (c00167.north east);
\draw[arr] (r00286) -- (nadha);
\draw[arr] (r00286) .. controls (900,1115) and (975,1165) .. (ha);
\draw[arr] (c00167) -- (r07658);
\draw[arr] (nadb) -- (r07658);
\draw[arr] (r07658) .. controls (230,1435) and (195,1475) .. (cdioa);
\draw[arr] (r07658) -- (hb);
\draw[arr] (r07658) -- (nadhb);
\draw[arr] (r07658) .. controls (500,1435) and (590,1462) .. (c16155.153);
\draw[arr] (atpb) -- (r04779);
\draw[arr] (c05345) -- (r04779);
\draw[arr] (r04779) -- (c05378);
\draw[arr] (r04779) -- (adpb);
\draw[arr] (c05378) -- (r01070);
\draw[arr] (r01070) -- (c00118);
\draw[arr] (r01070) .. controls (1280,1745) and (1320,1770) .. (c00111.126);
\draw[arr] (c00118) -- (r06861);
\draw[arr] (we) -- (r01010);
\draw[arr] (c00111) -- (r01010);
\draw[arr] (r06861) -- (c00231);
\draw[arr] (r06861) -- (c00068);
\draw[arr] (c13378) -- (r06861);
\draw[arr] (r01010) -- (c00184);
\draw[arr] (r01010) -- (pc);
\draw[arr] (c00068) -- (r06862);
\draw[arr] (c00184) .. controls (1330,2195) and (1300,2217) .. (r06862);
\draw[arr] (r06862) -- (c13378);
\draw[arr] (r06862) -- (c00067);
\draw[arr] (pb) -- (r01621);
\draw[arr] (c00231) -- (r01621);
\draw[arr] (r01621) .. controls (732,2080) and (800,1990) .. (c00118.212);
\draw[arr] (r01621) .. controls (670,2300) and (640,2330) .. (wf);
\draw[arr] (r01621) -- (c00227);
\draw[arr] (cdiob) -- (r00006);
\draw[arr] (c00900) -- (r00006);
\draw[arr] (c00027) .. controls (535,2460) and (600,2505) .. (r00207);
\draw[arr] (c00227) -- (r00207);
\draw[arr] (cdioc) .. controls (815,2460) and (785,2490) .. (r00207);
\draw[arr] (r00207) .. controls (610,2565) and (550,2590) .. (c00022.43);
\draw[arr] (r00006) -- (c00022);
\draw[arr] (r00207) -- (c00007);
\draw[arr] (r00207) -- (pd);
\draw[arr] (c00283) -- (r00782);
\draw[arr] (c00022) -- (r00782);
\draw[arr] (c00014) -- (r00782);
\draw[arr] (r00782) -- (c00097);
\draw[arr] (r00782) -- (wg);
\end{tikzpicture}
\end{document}
